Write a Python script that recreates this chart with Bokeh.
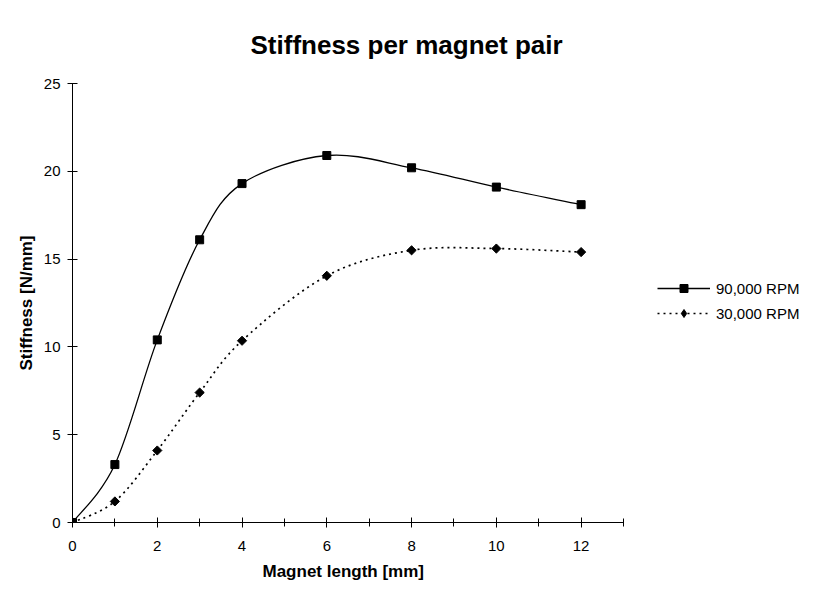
from bokeh.plotting import figure
from bokeh.models import (Range1d, FixedTicker, Legend, LegendItem, ColumnDataSource, Title)
from bokeh.embed import file_html
from bokeh.resources import INLINE

# ---- data ----
magnet_length = [0, 1, 2, 3, 4, 6, 8, 10, 12]
stiff_90k = [0.0, 3.3, 10.4, 16.1, 19.3, 20.9, 20.2, 19.1, 18.1]
stiff_30k = [0.0, 1.2, 4.1, 7.4, 10.35, 14.05, 15.5, 15.6, 15.4]
series_names = ["90,000 RPM", "30,000 RPM"]
x_major = [0, 2, 4, 6, 8, 10, 12]
x_minor = [1, 3, 5, 7, 9, 11, 13]
y_ticks = [0, 5, 10, 15, 20, 25]
x_axis_max = 13
y_axis_max = 25

FONT = "Liberation Sans"

W, H = 811, 590
LEFT, TOP, AXIS_W, FRAME_H = 72, 83, 551, 439
FRAME_W = W - LEFT
x_view_end = x_axis_max * FRAME_W / AXIS_W   # axis drawn only to 13; extra room holds the legend

p = figure(width=W, height=H, output_backend="svg", toolbar_location=None,
           x_range=Range1d(0, x_view_end), y_range=Range1d(0, y_axis_max),
           min_border_left=LEFT, min_border_right=0,
           min_border_top=TOP, min_border_bottom=H - TOP - FRAME_H)
p.outline_line_color = None
p.xgrid.visible = False
p.ygrid.visible = False
p.background_fill_color = "white"
p.border_fill_color = "white"

# axes
p.xaxis.ticker = FixedTicker(ticks=x_major, minor_ticks=x_minor)
p.yaxis.ticker = FixedTicker(ticks=y_ticks, minor_ticks=[])
p.xaxis.bounds = (0, x_axis_max)
for ax in (p.xaxis[0], p.yaxis[0]):
    ax.axis_line_color = "black"
    ax.axis_line_width = 1
    ax.major_tick_line_color = "black"
    ax.minor_tick_line_color = "black"
    ax.major_tick_in = 5
    ax.major_tick_out = 5
    ax.minor_tick_in = 4
    ax.minor_tick_out = 4
    ax.major_label_text_font = FONT
    ax.major_label_text_font_size = "15px"
    ax.major_label_text_color = "black"
    ax.axis_label_text_font = FONT
    ax.axis_label_text_font_size = "17px"
    ax.axis_label_text_font_style = "bold"
    ax.axis_label_text_color = "black"
p.yaxis.axis_label = "Stiffness [N/mm]"
p.xaxis.major_label_standoff = 13
p.yaxis.major_label_standoff = 7
p.yaxis.axis_label_standoff = 5

# x axis title, under the drawn axis
xt = Title(text="Magnet length [mm]", align="left", text_font=FONT, text_font_size="17px",
           text_font_style="bold", text_color="black", standoff=12, offset=190)
p.add_layout(xt, "below")

# title
p.title.text = "Stiffness per magnet pair"
p.title.text_font = FONT
p.title.text_font_size = "26px"
p.title.text_font_style = "bold"
p.title.text_color = "black"
p.title.align = "left"
p.title.offset = 178
p.title.standoff = 48


def smooth_bezier(xs, ys):
    n = len(xs)
    x0, y0, x1, y1, cx0, cy0, cx1, cy1 = ([] for _ in range(8))
    for i in range(n - 1):
        im1 = max(i - 1, 0)
        ip2 = min(i + 2, n - 1)
        x0.append(xs[i]); y0.append(ys[i])
        x1.append(xs[i + 1]); y1.append(ys[i + 1])
        cx0.append(xs[i] + (xs[i + 1] - xs[im1]) / 6.0)
        cy0.append(ys[i] + (ys[i + 1] - ys[im1]) / 6.0)
        cx1.append(xs[i + 1] - (xs[ip2] - xs[i]) / 6.0)
        cy1.append(ys[i + 1] - (ys[ip2] - ys[i]) / 6.0)
    return ColumnDataSource(dict(x0=x0, y0=y0, x1=x1, y1=y1, cx0=cx0, cy0=cy0, cx1=cx1, cy1=cy1))


src90 = smooth_bezier(magnet_length, stiff_90k)
src30 = smooth_bezier(magnet_length, stiff_30k)

p.bezier(x0="x0", y0="y0", x1="x1", y1="y1", cx0="cx0", cy0="cy0", cx1="cx1", cy1="cy1",
         source=src90, line_color="black", line_width=1.3)
p.bezier(x0="x0", y0="y0", x1="x1", y1="y1", cx0="cx0", cy0="cy0", cx1="cx1", cy1="cy1",
         source=src30, line_color="black", line_width=1.7, line_dash="2 4")

m90 = p.scatter(magnet_length, stiff_90k, marker="square", size=8, fill_color="black", line_color="black")
m30 = p.scatter(magnet_length, stiff_30k, marker="square", size=6.5, angle=0.7854,
                fill_color="black", line_color="black")

# legend-only renderers (hidden in the plot)
l90 = p.line(magnet_length, stiff_90k, line_color="black", line_width=1.3, visible=False)
l30 = p.line(magnet_length, stiff_30k, line_color="black", line_width=1.7, line_dash="2 4", visible=False)
d30 = p.scatter(magnet_length, stiff_30k, marker="diamond", size=11, fill_color="black",
                line_color="black", visible=False)

legend = Legend(items=[LegendItem(label=series_names[0], renderers=[l90, m90]),
                       LegendItem(label=series_names[1], renderers=[l30, d30])],
                location=(585, 199), orientation="vertical",
                glyph_width=53, glyph_height=20, label_standoff=6, spacing=5,
                padding=0, margin=0, border_line_color=None, background_fill_alpha=0,
                inactive_fill_alpha=0,
                label_text_font=FONT, label_text_font_size="15px", label_text_color="black")
p.add_layout(legend, "center")

open("out.html", "w").write(file_html(p, INLINE))
